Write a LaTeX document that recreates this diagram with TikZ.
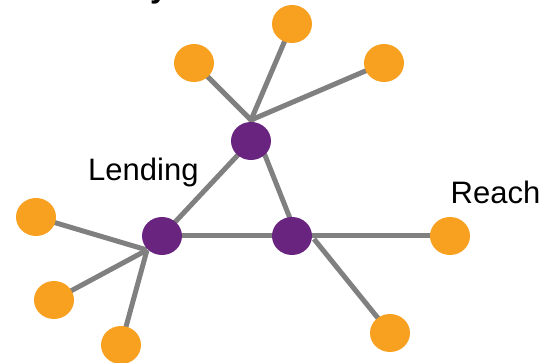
\documentclass[tikz,border=0pt]{standalone}
\usepackage{fontspec}
\setmainfont{Liberation Sans}
\usetikzlibrary{shapes.geometric}
\definecolor{leaf}{HTML}{F8A01F}
\definecolor{core}{HTML}{68247E}
\definecolor{link}{HTML}{808080}
\begin{document}
\begin{tikzpicture}[x=1pt,y=-1pt,
  leafnode/.style={ellipse, fill=leaf, minimum width=40pt, minimum height=38pt, inner sep=0pt},
  corenode/.style={ellipse, fill=core, minimum width=40pt, minimum height=38pt, inner sep=0pt},
  edge/.style={draw=link, line width=5pt},
  lbl/.style={inner sep=0pt, anchor=base west, font=\fontsize{31}{37}\selectfont}]
\useasboundingbox (0,0) rectangle (543,363);
\clip (0,0) rectangle (543,363);
% title, mostly above the frame
\node[inner sep=0pt, anchor=base west, font=\fontsize{32}{38}\selectfont\bfseries] (title) at (150,-2) {y};
% hub points where the spokes meet
\coordinate (h1) at (251,120);
\coordinate (h2) at (147,250);
\coordinate (h3) at (314,239);
\coordinate (e3) at (297,236);
% node positions
\coordinate (pc1) at (251,141);
\coordinate (pc2) at (162,236);
\coordinate (pc3) at (292,236);
\coordinate (lc1) at (292,24);
\coordinate (lc2) at (194,63);
\coordinate (lc3) at (384,63);
\coordinate (lc4) at (36,217);
\coordinate (lc5) at (54,300);
\coordinate (lc6) at (121,345);
\coordinate (lc7) at (450,236);
\coordinate (lc8) at (390,333);
% connectors
\draw[edge] (h1) -- (lc1);
\draw[edge] (h1) -- (lc2);
\draw[edge] (h1) -- (lc3);
\draw[edge] (h1) -- (e3);
\draw[edge] (pc1) -- (pc2);
\draw[edge] (pc2) -- (pc3);
\draw[edge] (h2) -- (lc4);
\draw[edge] (h2) -- (lc5);
\draw[edge] (h2) -- (lc6);
\draw[edge] (pc3) -- (lc7);
\draw[edge] (h3) -- (lc8);
% nodes
\node[corenode] (p1) at (pc1) {};
\node[corenode] (p2) at (pc2) {};
\node[corenode] (p3) at (pc3) {};
\node[leafnode] (o1) at (lc1) {};
\node[leafnode] (o2) at (lc2) {};
\node[leafnode] (o3) at (lc3) {};
\node[leafnode] (o4) at (lc4) {};
\node[leafnode] (o5) at (lc5) {};
\node[leafnode] (o6) at (lc6) {};
\node[leafnode] (o7) at (lc7) {};
\node[leafnode] (o8) at (lc8) {};
% labels
\node[lbl] (lending) at (88,181) {Lending};
\node[lbl] (reach) at (450.5,204) {Reach};
\end{tikzpicture}
\end{document}
